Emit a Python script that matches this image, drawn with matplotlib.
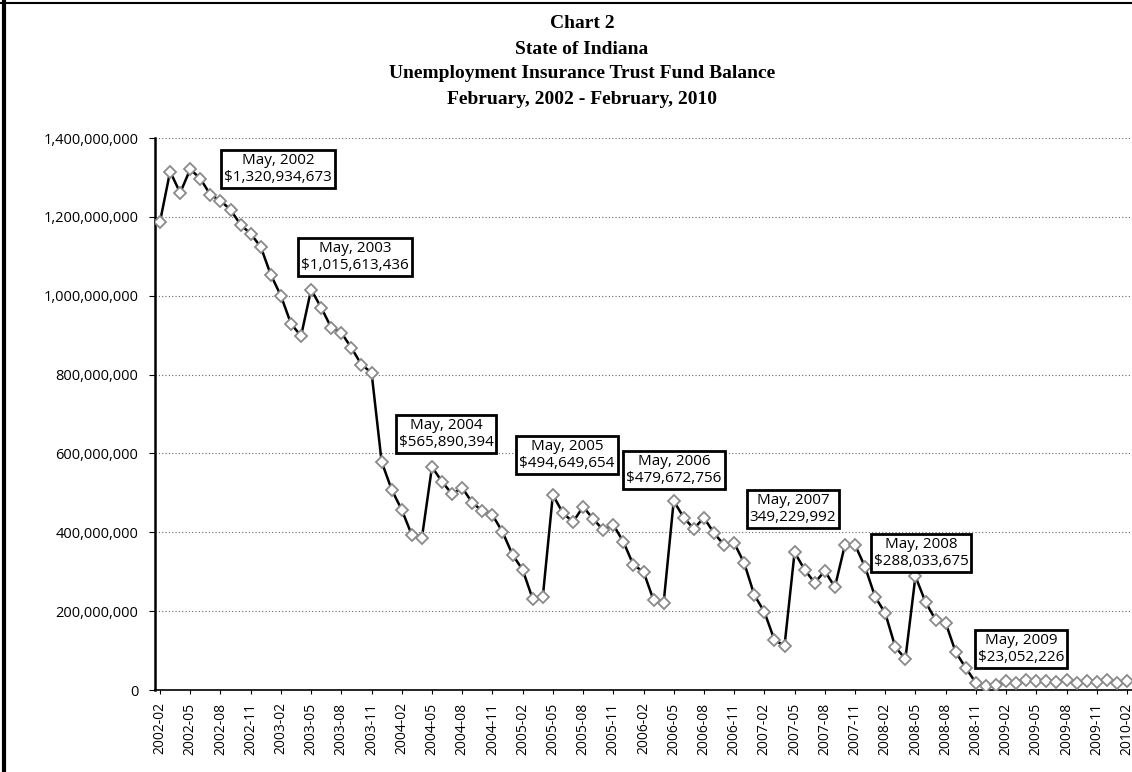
import numpy as np
import pandas as pd
import matplotlib
matplotlib.use("Agg")
import matplotlib.pyplot as plt
from matplotlib.lines import Line2D
from matplotlib.ticker import FuncFormatter

# monthly balances, Feb 2002 - Feb 2010 (dollars)
months = pd.date_range("2002-02-01", "2010-02-01", freq="MS").strftime("%Y-%m").tolist()
balance = [
    1188e6, 1315e6, 1261e6, 1320934673, 1297e6, 1256e6, 1241e6, 1218e6, 1180e6, 1157e6,
    1124e6, 1053e6, 1000e6, 929e6, 898e6, 1015613436, 970e6, 919e6, 906e6, 868e6,
    825e6, 805e6, 579e6, 508e6, 457e6, 393e6, 386e6, 565890394, 528e6, 497e6,
    513e6, 475e6, 454e6, 444e6, 401e6, 343e6, 305e6, 231e6, 236e6, 494649654,
    449e6, 426e6, 465e6, 434e6, 406e6, 419e6, 376e6, 317e6, 300e6, 228e6,
    221e6, 479672756, 437e6, 409e6, 437e6, 398e6, 368e6, 373e6, 322e6, 241e6,
    198e6, 127e6, 112e6, 349229992, 305e6, 272e6, 302e6, 261e6, 368e6, 368e6,
    312e6, 236e6, 195e6, 109e6, 79e6, 288033675, 223e6, 178e6, 170e6, 96e6,
    56e6, 18e6, 10e6, 12e6, 22e6, 18e6, 25e6, 23052226, 24e6, 20e6,
    26e6, 18e6, 22e6, 20e6, 25e6, 18e6, 22e6,
]
yticks = [0, 200e6, 400e6, 600e6, 800e6, 1000e6, 1200e6, 1400e6]

# callouts: (month label, box text)
notes = [
    ("2002-05", "May, 2002\n$1,320,934,673"),
    ("2003-05", "May, 2003\n$1,015,613,436"),
    ("2004-05", "May, 2004\n$565,890,394"),
    ("2005-05", "May, 2005\n$494,649,654"),
    ("2006-05", "May, 2006\n$479,672,756"),
    ("2007-05", "May, 2007\n349,229,992"),
    ("2008-05", "May, 2008\n$288,033,675"),
    ("2009-05", "May, 2009\n$23,052,226"),
]
# box centres in figure pixels
note_pos = [(278, 169), (355, 257), (446, 434), (567, 455),
            (674, 470), (793, 509), (921, 553), (1021, 649)]

W, H = 1132, 772
fig = plt.figure(figsize=(W / 100, H / 100), dpi=100)
ax = fig.add_axes([155 / W, (H - 690) / H, (W - 155) / W, (690 - 138) / H])

x = np.arange(len(months))
ax.plot(x, balance, color="black", lw=1.8, marker="D", ms=6,
        mfc="white", mec="#8a8a8a", mew=1.3, zorder=3)

ax.set_xlim(-0.5, len(months) - 0.5)
ax.set_ylim(0, 1400e6)
ax.set_yticks(yticks)
ax.yaxis.set_major_formatter(FuncFormatter(lambda v, p: f"{int(v):,}"))
ax.set_xticks(x[::3])
ax.set_xticklabels(months[::3], rotation=90, fontsize=10, family="Open Sans")
for lab in ax.get_yticklabels():
    lab.set_family("Open Sans")
    lab.set_fontsize(10.5)
ax.tick_params(axis="y", length=4, pad=8)
ax.tick_params(axis="x", length=3, pad=6)

ax.grid(axis="y", linestyle=(0, (1, 2)), color="#666666", lw=0.8)
ax.set_axisbelow(True)
ax.spines["right"].set_visible(False)
ax.spines["top"].set_visible(False)
ax.spines["left"].set_linewidth(1.8)
ax.spines["bottom"].set_linewidth(1.2)

for (lab, txt), (px, py) in zip(notes, note_pos):
    fig.text(px / W, 1 - py / H, txt, ha="center", va="center", fontsize=11,
             family="Open Sans", linespacing=1.1, parse_math=False,
             bbox=dict(boxstyle="square,pad=0.2", fc="white", ec="black", lw=2))

titles = ["Chart 2", "State of Indiana",
          "Unemployment Insurance Trust Fund Balance",
          "February, 2002 - February, 2010"]
for i, t in enumerate(titles):
    fig.text(582 / W, 1 - (24 + 25 * i) / H, t, ha="center", va="center",
             fontsize=14, family="Liberation Serif", weight="bold")

# scanned page border
fig.add_artist(Line2D([4 / W, 4 / W], [0, 1], color="black", lw=3))
fig.add_artist(Line2D([0, 1], [1 - 3 / H, 1 - 3 / H], color="black", lw=1.5))

fig.savefig("out.png", dpi=100)
